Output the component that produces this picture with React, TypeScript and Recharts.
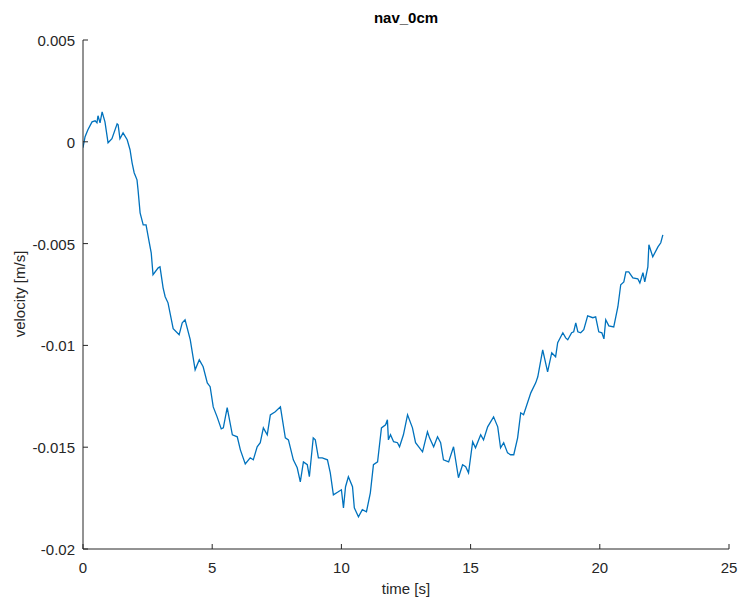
import React from 'react';
import { LineChart, Line, XAxis, YAxis } from 'recharts';

const timeS: number[] = [
  0.0, 0.08, 0.19, 0.35, 0.47, 0.54, 0.58, 0.66, 0.74, 0.85, 0.97, 1.12, 1.32, 1.36, 1.43, 1.55, 1.71, 1.82, 1.9, 1.98,
  2.09, 2.13, 2.21, 2.33, 2.44, 2.56, 2.64, 2.71, 2.91, 2.98, 3.1, 3.18, 3.29, 3.49, 3.72, 3.84, 3.95, 4.15, 4.34, 4.5,
  4.65, 4.81, 4.92, 5.04, 5.19, 5.35, 5.43, 5.58, 5.78, 5.97, 6.09, 6.28, 6.47, 6.59, 6.74, 6.86, 6.98, 7.13, 7.25, 7.44,
  7.64, 7.83, 7.95, 8.14, 8.29, 8.41, 8.53, 8.68, 8.76, 8.91, 8.99, 9.11, 9.26, 9.46, 9.57, 9.69, 9.88, 10.0, 10.08, 10.16,
  10.27, 10.43, 10.5, 10.66, 10.81, 10.97, 11.12, 11.24, 11.4, 11.55, 11.71, 11.78, 11.82, 11.9, 12.02, 12.17, 12.25, 12.4, 12.56, 12.75,
  12.87, 13.14, 13.33, 13.41, 13.57, 13.72, 13.84, 13.95, 14.15, 14.34, 14.53, 14.69, 14.81, 14.92, 15.08, 15.19, 15.39, 15.5, 15.66, 15.89,
  16.05, 16.16, 16.28, 16.43, 16.55, 16.67, 16.82, 16.94, 17.05, 17.33, 17.52, 17.6, 17.79, 17.98, 18.14, 18.29, 18.37, 18.57, 18.68, 18.76,
  18.91, 18.99, 19.07, 19.15, 19.26, 19.38, 19.53, 19.73, 19.84, 19.96, 20.08, 20.16, 20.23, 20.35, 20.54, 20.7, 20.81, 20.93, 21.01, 21.12,
  21.28, 21.47, 21.55, 21.67, 21.74, 21.86, 21.9, 22.05, 22.25, 22.36, 22.44,
];

const velocityMs: number[] = [
  -0.00029, 0.00025, 0.00059, 0.00098, 0.00103, 0.00093, 0.00128, 0.00093, 0.00147, 0.00098, -0.00005, 0.00015, 0.00088, 0.00083, 0.00015, 0.00044, 0.0001, -0.00039, -0.00103, -0.00152,
  -0.00187, -0.00236, -0.00349, -0.00408, -0.00408, -0.00491, -0.00545, -0.00653, -0.00619, -0.00614, -0.00717, -0.00761, -0.00791, -0.00918, -0.00948, -0.00889, -0.00874, -0.00972, -0.0112, -0.01071,
  -0.01105, -0.01184, -0.01203, -0.01302, -0.01351, -0.0141, -0.01405, -0.01306, -0.01439, -0.01449, -0.01513, -0.01582, -0.01552, -0.01562, -0.01498, -0.01478, -0.01405, -0.01439, -0.01341, -0.01326,
  -0.01302, -0.01454, -0.01464, -0.01562, -0.01601, -0.0167, -0.01572, -0.01586, -0.01645, -0.01454, -0.01464, -0.01552, -0.01552, -0.01562, -0.01626, -0.01734, -0.01719, -0.01709, -0.01798, -0.01694,
  -0.01645, -0.01694, -0.01798, -0.01842, -0.01807, -0.01817, -0.01724, -0.01586, -0.01572, -0.01405, -0.0139, -0.01365, -0.01464, -0.01439, -0.01473, -0.01478, -0.01498, -0.01439, -0.01341, -0.01405,
  -0.01478, -0.01523, -0.01424, -0.01454, -0.01498, -0.01449, -0.01478, -0.01562, -0.01572, -0.01498, -0.0165, -0.01586, -0.01596, -0.01626, -0.01473, -0.01503, -0.01439, -0.01464, -0.014, -0.01351,
  -0.014, -0.01503, -0.01478, -0.01528, -0.01537, -0.01537, -0.01454, -0.01331, -0.01341, -0.01233, -0.01184, -0.01154, -0.01022, -0.0113, -0.01036, -0.01056, -0.00987, -0.00938, -0.00963, -0.00972,
  -0.00938, -0.00933, -0.00889, -0.00933, -0.00938, -0.00923, -0.00855, -0.00864, -0.0086, -0.00933, -0.00938, -0.00968, -0.00874, -0.00904, -0.00909, -0.0081, -0.00702, -0.00688, -0.00639, -0.00639,
  -0.00668, -0.00673, -0.00693, -0.00643, -0.00688, -0.00614, -0.00506, -0.00565, -0.00516, -0.00496, -0.00457,
];

const xTicks: number[] = [0, 5, 10, 15, 20, 25];
const xTickLabels: string[] = ['0', '5', '10', '15', '20', '25'];
const yTicks: number[] = [-0.02, -0.015, -0.01, -0.005, 0, 0.005];
const yTickLabels: string[] = ['-0.02', '-0.015', '-0.01', '-0.005', '0', '0.005'];

const title = 'nav_0cm';
const xLabel = 'time [s]';
const yLabel = 'velocity [m/s]';

const data = timeS.map((t, i) => ({ t, v: velocityMs[i] }));

const AXIS = '#262626';
const FONT = '"Liberation Sans", Arial, Helvetica, sans-serif';

const XTick = (props: any) => {
  const { x, y, payload } = props;
  const idx = xTicks.indexOf(payload.value);
  const label = idx >= 0 ? xTickLabels[idx] : String(payload.value);
  return (
    <g>
      <line x1={x} x2={x} y1={y} y2={y - 5} stroke={AXIS} strokeWidth={1} />
      <text x={x} y={y + 24} textAnchor="middle" fontSize={15} fill={AXIS} fontFamily={FONT}>
        {label}
      </text>
    </g>
  );
};

const YTick = (props: any) => {
  const { x, y, payload } = props;
  const idx = yTicks.findIndex((v) => Math.abs(v - payload.value) < 1e-9);
  const label = idx >= 0 ? yTickLabels[idx] : String(payload.value);
  return (
    <g>
      <line x1={x} x2={x + 5} y1={y} y2={y} stroke={AXIS} strokeWidth={1} />
      <text x={x - 8} y={y + 6} textAnchor="end" fontSize={15} fill={AXIS} fontFamily={FONT}>
        {label}
      </text>
    </g>
  );
};

export default function App() {
  return (
    <div style={{ position: 'absolute', left: 0, top: 0, width: 741, height: 601, background: '#fff' }}>
      <LineChart
        width={741}
        height={601}
        data={data}
        margin={{ top: 40, right: 12, bottom: 0, left: 0 }}
      >
        <XAxis
          dataKey="t"
          type="number"
          domain={[0, 25]}
          ticks={xTicks}
          interval={0}
          tickSize={0}
          tickMargin={0}
          tickLine={false}
          axisLine={{ stroke: AXIS, strokeWidth: 1 }}
          tick={<XTick />}
          height={52}
          allowDataOverflow
        />
        <YAxis
          dataKey="v"
          type="number"
          domain={[-0.02, 0.005]}
          ticks={yTicks}
          interval={0}
          tickSize={0}
          tickMargin={0}
          tickLine={false}
          axisLine={{ stroke: AXIS, strokeWidth: 1 }}
          tick={<YTick />}
          width={83}
          allowDataOverflow
        />
        <Line
          type="linear"
          dataKey="v"
          stroke="#0072BD"
          strokeWidth={1.3}
          dot={false}
          activeDot={false}
          isAnimationActive={false}
        />
      </LineChart>
      <svg
        width={741}
        height={601}
        style={{ position: 'absolute', left: 0, top: 0, pointerEvents: 'none' }}
      >
        <text x={406} y={23} textAnchor="middle" fontSize={15} fontWeight="bold" fill="#000" fontFamily={FONT}>
          {title}
        </text>
        <text x={406} y={594} textAnchor="middle" fontSize={15} fill={AXIS} fontFamily={FONT}>
          {xLabel}
        </text>
        <text
          x={0}
          y={0}
          transform="translate(25,294) rotate(-90)"
          textAnchor="middle"
          fontSize={15}
          fill={AXIS}
          fontFamily={FONT}
        >
          {yLabel}
        </text>
      </svg>
    </div>
  );
}
